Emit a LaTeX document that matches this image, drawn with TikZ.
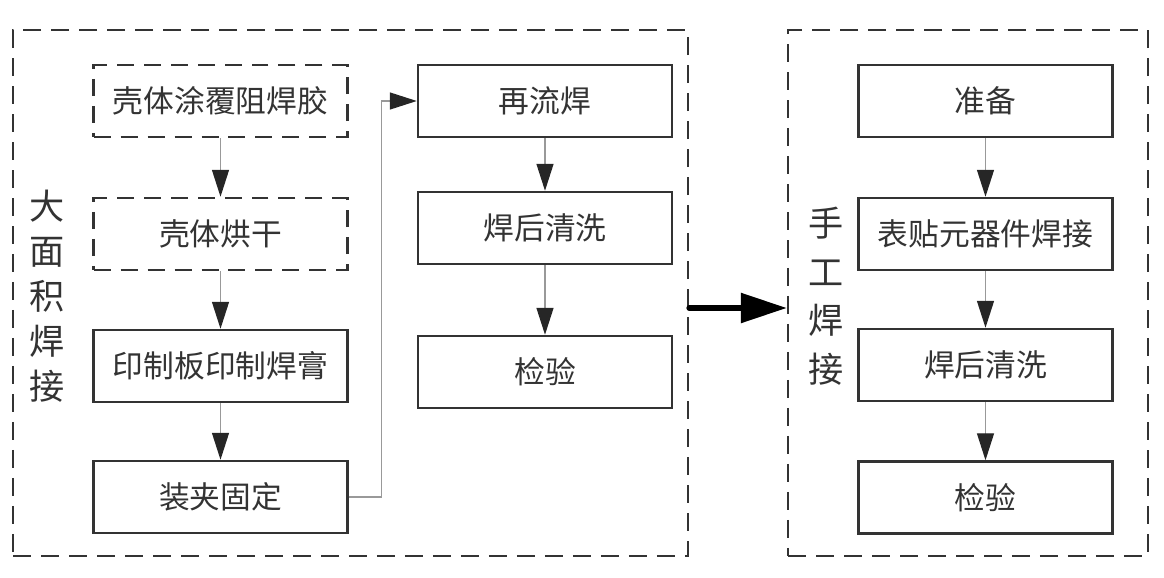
\documentclass[tikz,border=0pt]{standalone}
\usepackage{fontspec}
\setmainfont{Noto Sans CJK SC}
\usetikzlibrary{arrows.meta}
\definecolor{ink}{HTML}{333333}

\begin{document}
\begin{tikzpicture}[x=0.02cm, y=-0.02cm,
  box/.style={draw=ink, line width=1.4pt, minimum width=5.08cm, minimum height=1.44cm,
    text=ink, font=\fontsize{17.5}{20}\selectfont},
  dbox/.style={box, dash pattern=on 0.34cm off 0.2cm},
  frame/.style={draw=ink, line width=1.4pt, dash pattern=on 0.36cm off 0.2cm,
    minimum height=10.52cm},
  flow/.style={draw=gray!80, line width=0.8pt, -{Triangle[length=0.54cm, width=0.34cm, color=black!85]}},
  side/.style={text=ink, align=center, font=\fontsize{20}{25.6}\selectfont}]
\useasboundingbox (0,0) rectangle (1164,578);

% groups
\node[frame, minimum width=13.5cm] (L) at (350.5,293) {};
\node[frame, minimum width=7.2cm] (R) at (968,293) {};
\node[side] (lt) at (47,296) {大\\面\\积\\焊\\接};
\node[side, font=\fontsize{20}{27.6}\selectfont] (rt) at (826,296) {手\\工\\焊\\接};

% left column
\node[dbox] (a1) at (220.5,101) {壳体涂覆阻焊胶};
\node[dbox] (a2) at (220.5,234) {壳体烘干};
\node[box] (a3) at (220.5,366) {印制板印制焊膏};
\node[box] (a4) at (220.5,497) {装夹固定};

% middle column
\node[box] (b1) at (545,101) {再流焊};
\node[box] (b2) at (545,228) {焊后清洗};
\node[box] (b3) at (545,372) {检验};

% right column
\node[box] (c1) at (985.5,101) {准备};
\node[box] (c2) at (985.5,234) {表贴元器件焊接};
\node[box] (c3) at (985.5,365) {焊后清洗};
\node[box] (c4) at (985.5,497.5) {检验};

\path[flow] (a1) -- (a2);
\path[flow] (a2) -- (a3);
\path[flow] (a3) -- (a4);
\path[flow] (a4.east) -- ++(33,0) |- (b1.west);
\path[flow] (b1) -- (b2);
\path[flow] (b2) -- (b3);
\path[flow] (c1) -- (c2);
\path[flow] (c2) -- (c3);
\path[flow] (c3) -- (c4);

\path (L.east) ++(0,15) coordinate (lo);
\path (R.west) ++(0,15) coordinate (ri);
\path[draw=black, line width=3.2pt, line cap=round,
  -{Triangle[length=0.92cm, width=0.58cm]}] (lo) -- (ri);
\end{tikzpicture}
\end{document}
